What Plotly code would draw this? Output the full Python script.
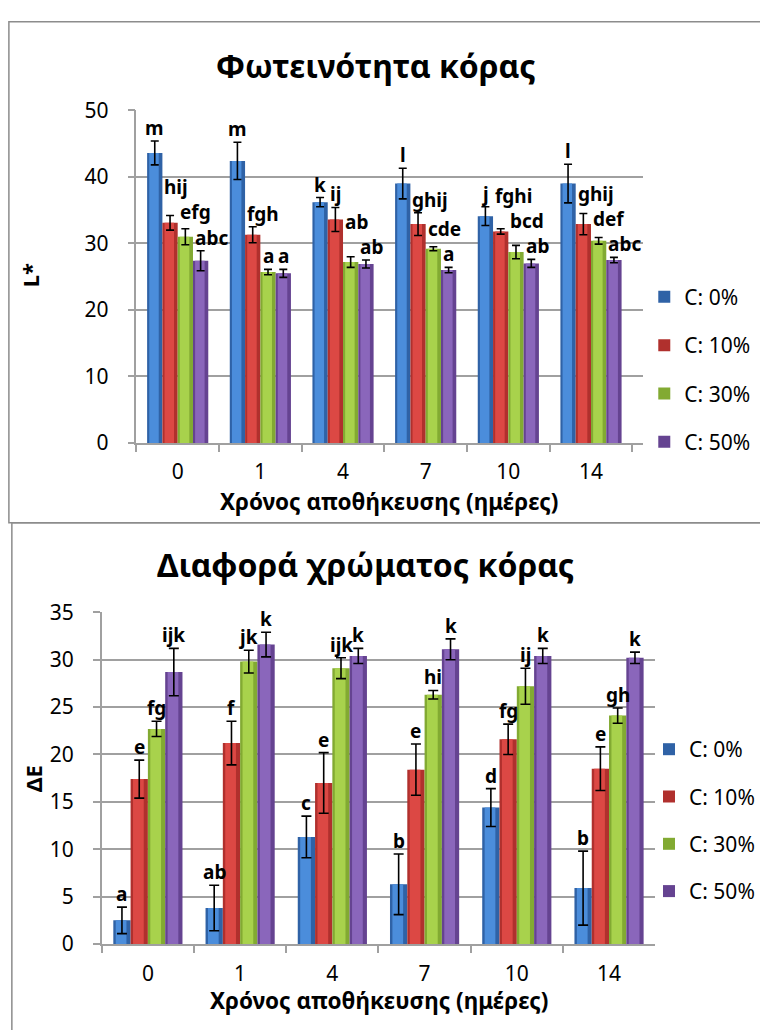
import plotly.graph_objects as go

# Storage days (categories)
days = ["0", "1", "4", "7", "10", "14"]
series_names = ["C: 0%", "C: 10%", "C: 30%", "C: 50%"]

# Lightness L* (mean and error)
L_c0 = [43.6, 42.4, 36.2, 39.0, 34.1, 39.0]
L_c10 = [33.1, 31.3, 33.6, 32.9, 31.8, 32.9]
L_c30 = [31.0, 25.7, 27.2, 29.2, 28.7, 30.4]
L_c50 = [27.4, 25.5, 26.9, 26.0, 27.0, 27.5]
L_err_c0 = [1.8, 2.8, 0.7, 2.3, 1.4, 2.9]
L_err_c10 = [1.1, 1.2, 1.8, 1.7, 0.4, 1.6]
L_err_c30 = [1.2, 0.4, 0.8, 0.3, 1.0, 0.5]
L_err_c50 = [1.5, 0.6, 0.6, 0.4, 0.6, 0.4]
L_let_c0 = ["m", "m", "k", "l", "j", "l"]
L_let_c10 = ["hij", "fgh", "ij", "ghij", "fghi", "ghij"]
L_let_c30 = ["efg", "a", "ab", "cde", "bcd", "def"]
L_let_c50 = ["abc", "a", "ab", "a", "ab", "abc"]

# Colour difference ΔE (mean and error)
E_c0 = [2.5, 3.8, 11.3, 6.3, 14.4, 5.9]
E_c10 = [17.4, 21.2, 17.0, 18.4, 21.6, 18.5]
E_c30 = [22.7, 29.8, 29.1, 26.3, 27.2, 24.1]
E_c50 = [28.7, 31.6, 30.4, 31.1, 30.4, 30.2]
E_err_c0 = [1.4, 2.4, 2.2, 3.2, 2.0, 3.9]
E_err_c10 = [2.0, 2.3, 3.2, 2.7, 1.6, 2.3]
E_err_c30 = [0.8, 1.2, 1.1, 0.45, 1.9, 0.8]
E_err_c50 = [2.5, 1.3, 0.8, 1.1, 0.8, 0.6]
E_let_c0 = ["a", "ab", "c", "b", "d", "b"]
E_let_c10 = ["e", "f", "e", "e", "fg", "e"]
E_let_c30 = ["fg", "jk", "ijk", "hi", "ij", "gh"]
E_let_c50 = ["ijk", "k", "k", "k", "k", "k"]

# Cylinder look: edge tone + lighter inner band
edge_colors = ["#2f62a6", "#b0302d", "#82aa32", "#654391"]
band_colors = ["#4b8ddb", "#dc4844", "#a8d24c", "#8a66bb"]

FONT = "Noto Sans, DejaVu Sans, sans-serif"
GRID = "#a0a0a0"
W, H = 760.0, 1030.0
LET_SIZE = 19
LINE_PX = 26


def py(p):
    return 1 - p / H


def text_px(s):
    """Rough pixel width of a bold label."""
    narrow = set("ijlf")
    wide = set("m")
    em = sum(0.34 if c in narrow else 0.97 if c in wide else 0.62 for c in s)
    return em * LET_SIZE


fig = go.Figure()


def add_panel(xa, ya, legend, means, errs, letters, bargap, left_align,
              plot_px_w, plot_px_h, ymax, cap):
    w = (1 - bargap) / 4
    px_x = plot_px_w / len(days)        # pixels per category
    px_y = plot_px_h / ymax             # pixels per y unit
    ann = []
    for i in range(4):
        off = -(1 - bargap) / 2 + i * w
        fig.add_trace(go.Bar(
            x=days, y=means[i], width=w, offset=off, name=series_names[i],
            marker=dict(color=edge_colors[i], line=dict(width=0)),
            xaxis=xa, yaxis=ya, legend=legend, legendgroup=legend + str(i),
            hoverinfo="skip"))
        fig.add_trace(go.Bar(
            x=days, y=means[i], width=w * 0.62, offset=off + w * 0.14,
            marker=dict(color=band_colors[i], line=dict(width=0)),
            xaxis=xa, yaxis=ya, showlegend=False, hoverinfo="skip"))
    for i in range(4):
        off = -(1 - bargap) / 2 + i * w
        fig.add_trace(go.Bar(
            x=days, y=means[i], width=w, offset=off,
            marker=dict(color="rgba(0,0,0,0)", line=dict(width=0)),
            error_y=dict(type="data", array=errs[i], color="black",
                         thickness=1.6, width=cap),
            xaxis=xa, yaxis=ya, showlegend=False, hoverinfo="skip"))

    # significance letters, placed right to left so wide labels clear their neighbours
    for j in range(len(days)):
        placed = {}
        for i in range(3, -1, -1):
            txt = letters[i][j]
            off = -(1 - bargap) / 2 + i * w
            tw = text_px(txt)
            if left_align and len(txt) > 1:
                left = (j + off) * px_x
            else:
                left = (j + off + w / 2) * px_x - tw / 2
            bottom = (means[i][j] + errs[i][j]) * px_y
            shift = 0.0
            if i + 1 in placed:
                nl, nr, nb, nt = placed[i + 1]
                if left + tw > nl + 1 and bottom < nt and bottom + LINE_PX > nb:
                    if left_align:
                        bottom = nt
                    else:
                        shift = min(0.0, nl - 1 - (left + tw))
                        left += shift
            placed[i] = (left, left + tw, bottom, bottom + LINE_PX)
            if left_align and len(txt) > 1:
                ax, anchor = j + off, "left"
            else:
                ax, anchor = j + off + w / 2, "center"
            ann.append(dict(
                x=ax, y=bottom / px_y, xref=xa.replace("axis", ""),
                yref=ya.replace("axis", ""), text="<b>%s</b>" % txt,
                showarrow=False, xanchor=anchor, yanchor="bottom",
                xshift=shift, yshift=-2,
                font=dict(family=FONT, size=LET_SIZE, color="black")))
    return ann


annotations = []
annotations += add_panel("x", "y", "legend",
                         [L_c0, L_c10, L_c30, L_c50],
                         [L_err_c0, L_err_c10, L_err_c30, L_err_c50],
                         [L_let_c0, L_let_c10, L_let_c30, L_let_c50],
                         0.26, True, 651 - 138, 440 - 98, 50, 4)
annotations += add_panel("x2", "y2", "legend2",
                         [E_c0, E_c10, E_c30, E_c50],
                         [E_err_c0, E_err_c10, E_err_c30, E_err_c50],
                         [E_let_c0, E_let_c10, E_let_c30, E_let_c50],
                         0.25, False, 663 - 103, 955 - 614, 35, 5)


def paper_text(text, x, y, size, angle=0):
    return dict(text=text, x=x / W, y=py(y), xref="paper", yref="paper",
                xanchor="center", yanchor="middle", textangle=angle,
                showarrow=False, font=dict(family=FONT, size=size, color="black"))


# Chart titles and axis titles
annotations += [
    paper_text("<b>Φωτεινότητα κόρας</b>", 380, 52, 32),
    paper_text("<b>Διαφορά χρώματος κόρας</b>", 370, 565, 32),
    paper_text("<b>Χρόνος αποθήκευσης (ημέρες)</b>", 394, 500, 22.5),
    paper_text("<b>Χρόνος αποθήκευσης (ημέρες)</b>", 384, 1013, 22.5),
    paper_text("<b>L*</b>", 30, 268, 22, -90),
    paper_text("<b>ΔE</b>", 33, 785, 22, -90),
]

axis_common = dict(showline=True, linecolor=GRID, linewidth=1.5, ticks="outside",
                   tickcolor=GRID, ticklen=7, tickwidth=1.5,
                   tickfont=dict(family=FONT, size=21, color="black"))

fig.update_layout(
    width=760, height=1030, margin=dict(l=0, r=0, t=0, b=0),
    paper_bgcolor="white", plot_bgcolor="white",
    barmode="overlay", showlegend=True,
    xaxis=dict(domain=[138 / W, 651 / W], anchor="y", type="category",
               tickson="boundaries", showgrid=False, ticklabelstandoff=9,
               **axis_common),
    yaxis=dict(domain=[py(440), py(98)], anchor="x", range=[0, 50], dtick=10,
               showgrid=True, gridcolor=GRID, gridwidth=1.5, zeroline=False,
               ticklabelstandoff=15, **axis_common),
    xaxis2=dict(domain=[103 / W, 663 / W], anchor="y2", type="category",
                tickson="boundaries", showgrid=False, ticklabelstandoff=10,
                **axis_common),
    yaxis2=dict(domain=[py(955), py(614)], anchor="x2", range=[0, 35], dtick=5,
                showgrid=True, gridcolor=GRID, gridwidth=1.5, zeroline=False,
                ticklabelstandoff=15, **axis_common),
    legend=dict(x=652 / W, y=py(269), xanchor="left", yanchor="top",
                font=dict(family=FONT, size=21, color="black"),
                tracegroupgap=18, itemwidth=30, bgcolor="rgba(0,0,0,0)"),
    legend2=dict(x=657 / W, y=py(734), xanchor="left", yanchor="top",
                 font=dict(family=FONT, size=21, color="black"),
                 tracegroupgap=17, itemwidth=30, bgcolor="rgba(0,0,0,0)"),
    annotations=annotations,
    shapes=[
        dict(type="rect", xref="paper", yref="paper", x0=9 / W, x1=1.05,
             y0=py(522), y1=py(7), line=dict(color="#8c8c8c", width=1.5)),
        dict(type="rect", xref="paper", yref="paper", x0=12 / W, x1=1.05,
             y0=-0.05, y1=py(522), line=dict(color="#8c8c8c", width=1.5)),
    ],
)

fig.write_html("out.html")
